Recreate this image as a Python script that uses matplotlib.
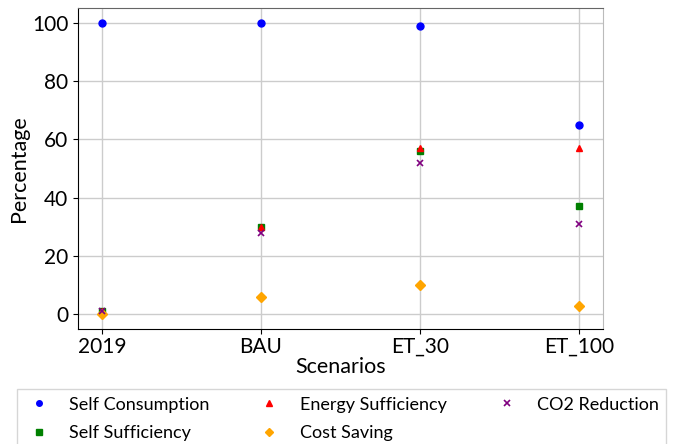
import matplotlib.pyplot as plt

plt.rcParams['font.family'] = ['Lato', 'DejaVu Sans']

scenarios = ['2019', 'BAU', 'ET_30', 'ET_100']
self_consumption = [100, 100, 99, 65]
energy_sufficiency = [1, 30, 57, 57]
co2_reduction = [1, 28, 52, 31]
self_sufficiency = [1, 30, 56, 37]
cost_saving = [0, 6, 10, 3]

fig = plt.figure(figsize=(6.78, 4.44), dpi=100)
ax = fig.add_axes([0.115, 0.259, 0.774, 0.723])

x = list(range(len(scenarios)))
ax.plot(x, self_consumption, 'o', color='blue', ms=5, label='Self Consumption')
ax.plot(x, self_sufficiency, 's', color='green', ms=5, label='Self Sufficiency')
ax.plot(x, energy_sufficiency, '^', color='red', ms=5, label='Energy Sufficiency')
ax.plot(x, cost_saving, 'D', color='orange', ms=5, label='Cost Saving')
ax.plot(x, co2_reduction, 'x', color='purple', ms=5, mew=1.2, label='CO2 Reduction')

ax.set_xticks(x)
ax.set_xticklabels(scenarios)
ax.set_yticks([0, 20, 40, 60, 80, 100])
ax.tick_params(labelsize=15)
ax.tick_params(axis='x', pad=2)
ax.set_xlabel('Scenarios', fontsize=15.5, labelpad=0)
ax.set_ylabel('Percentage', fontsize=15.5, labelpad=2)
ax.grid(True, color='#cccccc', linewidth=1)
ax.set_axisbelow(True)
ax.spines['top'].set_color('#666666')
ax.spines['right'].set_color('#bbbbbb')

fig.legend(loc='upper center', bbox_to_anchor=(0.504, 0.123), ncol=3,
           fontsize=13, markerscale=0.8, handlelength=1.6, handletextpad=0.9,
           columnspacing=2.5, frameon=True, fancybox=False, edgecolor='#cccccc',
           borderaxespad=0, labelspacing=0.7)

plt.savefig('out.png', dpi=100)
